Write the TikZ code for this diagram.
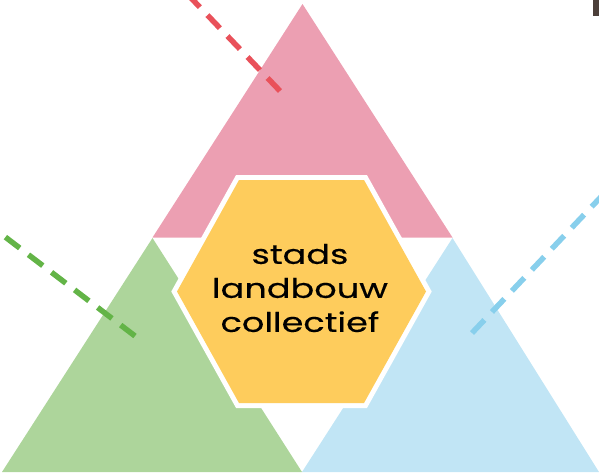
\documentclass[tikz,border=0pt]{standalone}
\usepackage{fontspec}
\usetikzlibrary{calc}
\newfontfamily\hexfont[FakeStretch=1.3,FakeBold=0.4]{Poppins}
\definecolor{pinkfill}{HTML}{EC9FB2}
\definecolor{greenfill}{HTML}{ADD59B}
\definecolor{bluefill}{HTML}{C1E5F5}
\definecolor{hexyellow}{HTML}{FECC5C}
\definecolor{reddash}{HTML}{E9515A}
\definecolor{greendash}{HTML}{63B447}
\definecolor{bluedash}{HTML}{88CFEC}
\definecolor{cornerdark}{HTML}{4C3F3A}
\tikzset{
  dashline/.style={line width=5.5pt, dash pattern=on 18pt off 11pt, line cap=butt},
  hexrim/.style={draw=white, line width=10pt, line join=miter, fill=hexyellow},
  hexlabel/.style={font=\hexfont\fontsize{27}{34}\selectfont, align=center, inner sep=0pt, text=black}
}
\begin{document}
\begin{tikzpicture}[x=1pt,y=-1pt]
\useasboundingbox (0,0) rectangle (599,475);
% triangles
\fill[pinkfill] (302.5,4) -- (452.5,237.5) -- (152.5,237.5) -- cycle;
\fill[greenfill] (152.5,238) -- (302,472) -- (2,472) -- cycle;
\fill[bluefill] (452.5,238) -- (599,472) -- (302,472) -- cycle;
% corner mark
\fill[cornerdark] (593,0) rectangle (599,16);
% dashed lines
\coordinate (rin) at (280,91);
\coordinate (rout) at ($(280,91)!1.3!(193,0)$);
\coordinate (gin) at (135,336);
\coordinate (gout) at ($(135,336)!1.3!(0,233)$);
\coordinate (bin) at (472,333);
\coordinate (bout) at ($(472,333)!1.3!(598,200)$);
\draw[dashline, reddash] (rin) -- (rout);
\draw[dashline, greendash] (gin) -- (gout);
\draw[dashline, bluedash] (bin) -- (bout);
% hexagon
\coordinate (h1) at (177,291.5);
\coordinate (h2) at (239,180);
\coordinate (h3) at (364,180);
\coordinate (h4) at (426,291.5);
\coordinate (h5) at (364,403);
\coordinate (h6) at (239,403);
\draw[hexrim] (h1) -- (h2) -- (h3) -- (h4) -- (h5) -- (h6) -- cycle;
\fill[hexyellow] (h1) -- (h2) -- (h3) -- (h4) -- (h5) -- (h6) -- cycle;
\node[hexlabel] (label) at (300,288) {stads\\landbouw\\collectief};
\end{tikzpicture}
\end{document}
